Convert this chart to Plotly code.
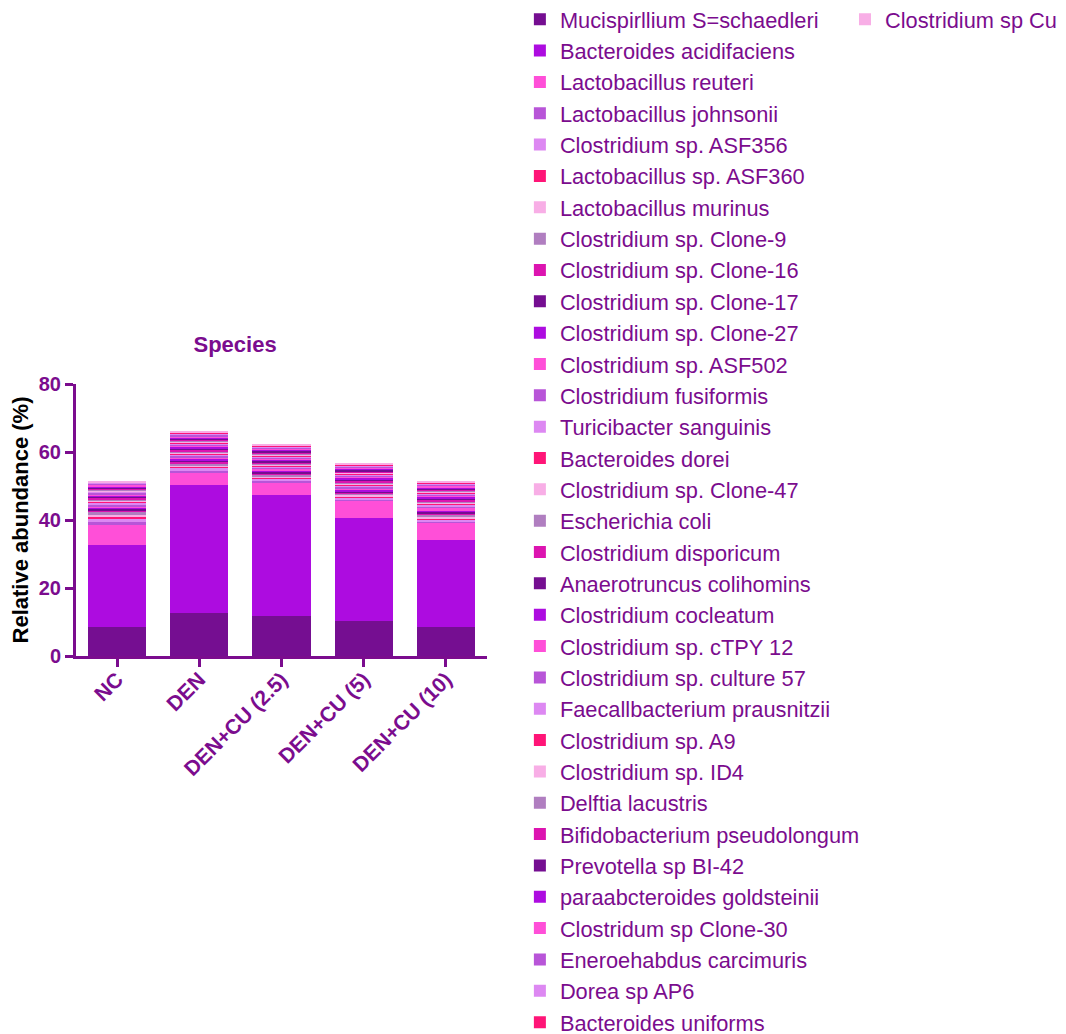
import plotly.graph_objects as go

categories = ["NC", "DEN", "DEN+CU (2.5)", "DEN+CU (5)", "DEN+CU (10)"]

species = [
    "Mucispirllium S=schaedleri", "Bacteroides acidifaciens", "Lactobacillus reuteri",
    "Lactobacillus johnsonii", "Clostridium sp. ASF356", "Lactobacillus sp. ASF360",
    "Lactobacillus murinus", "Clostridium sp. Clone-9", "Clostridium sp. Clone-16",
    "Clostridium sp. Clone-17", "Clostridium sp. Clone-27", "Clostridium sp. ASF502",
    "Clostridium fusiformis", "Turicibacter sanguinis", "Bacteroides dorei",
    "Clostridium sp. Clone-47", "Escherichia coli", "Clostridium disporicum",
    "Anaerotruncus colihomins", "Clostridium cocleatum", "Clostridium sp. cTPY 12",
    "Clostridium sp. culture 57", "Faecallbacterium prausnitzii", "Clostridium sp. A9",
    "Clostridium sp. ID4", "Delftia lacustris", "Bifidobacterium pseudolongum",
    "Prevotella sp BI-42", "paraabcteroides goldsteinii", "Clostridum sp Clone-30",
    "Eneroehabdus carcimuris", "Dorea sp AP6", "Bacteroides uniforms", "Clostridium sp Cu",
]

palette = ["#750E91", "#AD0CE0", "#FF4FD8", "#B855D8", "#DD88F2",
           "#FF1577", "#F8AEE6", "#B07EC0", "#DC14B0"]

nc = [8.5, 24.1, 5.9, 1.2, 0.5, 0.6, 0.8, 1.0, 0.3, 0.4, 0.3, 0.5, 0.4, 0.5, 0.3, 0.5, 0.3,
      0.4, 0.4, 0.3, 0.4, 0.4, 0.3, 0.2, 0.3, 0.2, 0.3, 0.4, 0.2, 0.4, 0.3, 0.3, 0.2, 0.4]
den = [12.7, 37.5, 3.8, 0.5, 0.9, 0.3, 0.4, 0.4, 0.5, 0.6, 0.5, 0.4, 0.4, 0.3, 0.3, 0.4, 0.3,
       0.4, 0.4, 0.5, 0.4, 0.3, 0.3, 0.3, 0.3, 0.2, 0.3, 0.4, 0.3, 0.4, 0.3, 0.3, 0.3, 0.3]
cu25 = [11.8, 35.5, 3.7, 0.5, 0.7, 0.3, 0.4, 0.4, 0.4, 0.5, 0.4, 0.4, 0.3, 0.3, 0.3, 0.4, 0.3,
        0.4, 0.4, 0.4, 0.4, 0.3, 0.3, 0.3, 0.3, 0.2, 0.3, 0.4, 0.3, 0.4, 0.3, 0.3, 0.2, 0.3]
cu5 = [10.4, 30.3, 4.8, 0.6, 0.4, 0.4, 0.5, 0.4, 0.3, 0.4, 0.4, 0.5, 0.4, 0.3, 0.3, 0.4, 0.3,
       0.4, 0.5, 0.4, 0.3, 0.3, 0.3, 0.3, 0.3, 0.2, 0.3, 0.4, 0.3, 0.4, 0.3, 0.3, 0.2, 0.3]
cu10 = [8.6, 25.4, 5.0, 0.7, 0.4, 0.3, 0.7, 0.5, 0.4, 0.5, 0.4, 0.5, 0.6, 0.5, 0.3, 0.4, 0.3,
        0.4, 0.5, 0.4, 0.4, 0.4, 0.3, 0.3, 0.3, 0.2, 0.3, 0.4, 0.3, 0.4, 0.3, 0.3, 0.2, 0.4]

groups = [nc, den, cu25, cu5, cu10]

PURPLE = "#7B0C8E"
FONT = "Liberation Sans, Arial, sans-serif"

fig = go.Figure()
for i, name in enumerate(species):
    fig.add_trace(go.Bar(
        x=categories,
        y=[g[i] for g in groups],
        name=name,
        marker=dict(color=palette[i % len(palette)], line=dict(width=0)),
        legend="legend2" if i == len(species) - 1 else "legend",
    ))

fig.update_layout(
    barmode="stack",
    bargap=0.29,
    width=1066, height=1034,
    margin=dict(l=68, r=587, t=376, b=386, autoexpand=False),
    paper_bgcolor="white", plot_bgcolor="white",
    font=dict(family=FONT, color=PURPLE),
    title=dict(text="<b>Species</b>", x=0.213, xanchor="center", xref="container",
               y=1 - 336 / 1034, yanchor="middle", yref="container",
               font=dict(size=22, color=PURPLE, family=FONT)),
    legend=dict(x=1.080, xanchor="left", y=2.417, yanchor="top",
                font=dict(size=21.8, color=PURPLE, family=FONT),
                traceorder="normal", bgcolor="rgba(0,0,0,0)", itemwidth=30,
                maxheight=1400),
    legend2=dict(x=1.871, xanchor="left", y=2.417, yanchor="top",
                 font=dict(size=21.8, color=PURPLE, family=FONT),
                 bgcolor="rgba(0,0,0,0)", itemwidth=30, maxheight=1400),
    xaxis=dict(showline=True, linewidth=3, linecolor=PURPLE, ticks="outside",
               ticklen=8, tickwidth=3, tickcolor=PURPLE, tickangle=-45,
               tickfont=dict(size=21, color=PURPLE, family=FONT),
               ticklabelstandoff=-8,
               showgrid=False, zeroline=False, range=[-0.5, 4.5]),
    yaxis=dict(showline=True, linewidth=3, linecolor=PURPLE, ticks="outside",
               ticklen=8, tickwidth=3, tickcolor=PURPLE, range=[0, 80], dtick=20,
               tickfont=dict(size=20, color=PURPLE, family=FONT),
               showgrid=False, zeroline=False,
               title=dict(text="<b>Relative abundance (%)</b>",
                          font=dict(size=22, color="black", family=FONT), standoff=10)),
)
fig.update_xaxes(tickprefix="<b>", ticksuffix="</b>")
fig.update_yaxes(tickprefix="<b>", ticksuffix="</b>")

fig.write_html("out.html")
